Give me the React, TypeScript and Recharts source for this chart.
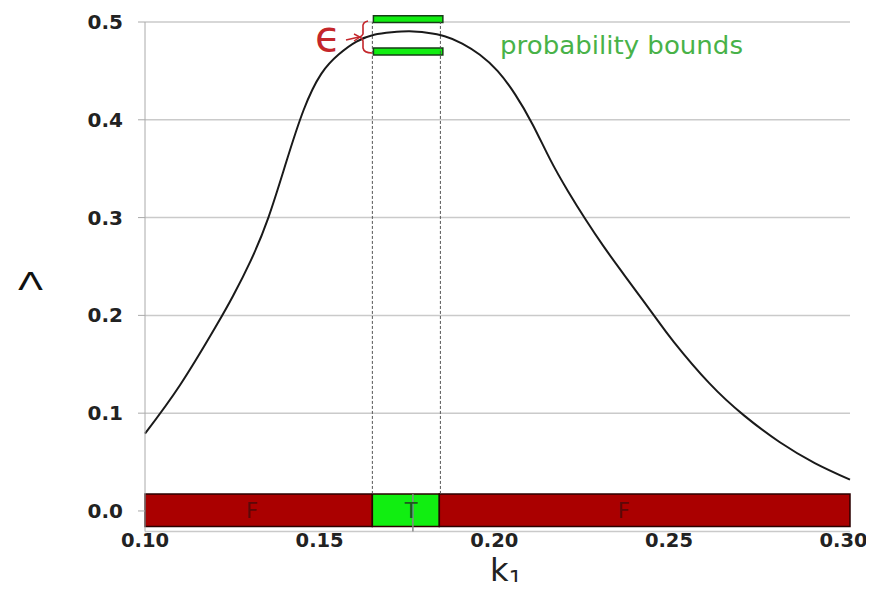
import {
  ComposedChart,
  Line,
  XAxis,
  YAxis,
  CartesianGrid,
  ReferenceArea,
  ReferenceLine,
  ReferenceDot,
} from 'recharts';

// k1 sample points and the Lambda curve
const kValues = [
  0.1, 0.11, 0.12, 0.125, 0.13, 0.135, 0.14, 0.145, 0.15, 0.155, 0.16, 0.165,
  0.17, 0.175, 0.18, 0.185, 0.19, 0.195, 0.2, 0.205, 0.21, 0.215, 0.22, 0.225,
  0.23, 0.235, 0.24, 0.245, 0.25, 0.26, 0.27, 0.28, 0.29, 0.3,
];
const lambdaValues = [
  0.079, 0.129, 0.188, 0.22, 0.256, 0.3, 0.356, 0.41, 0.447, 0.467, 0.48,
  0.487, 0.4895, 0.4905, 0.489, 0.4855, 0.478, 0.4665, 0.45, 0.426, 0.395,
  0.359, 0.327, 0.298, 0.271, 0.246, 0.2215, 0.197, 0.173, 0.131, 0.0975,
  0.0705, 0.049, 0.032,
];

const xTicks = [0.1, 0.15, 0.2, 0.25, 0.3];
const yTicks = [0, 0.1, 0.2, 0.3, 0.4, 0.5];

// truth band along the bottom: F / T / F
const bandStarts = [0.1, 0.1645, 0.1835];
const bandEnds = [0.1645, 0.1835, 0.3];
const bandLabels = ['F', 'T', 'F'];
const bandLabelK = [0.1304, 0.1755, 0.2358];
const bandHalf = [-0.016, 0.0174];

// probability bounds (upper / lower) and their k1 interval
const boundsK = [0.1648, 0.1845];
const upperBound = [0.4995, 0.5065];
const lowerBound = [0.4663, 0.4733];
const guideK = [0.1645, 0.1838];
const markerK = 0.176;

const data = kValues.map((k, i) => ({ k, v: lambdaValues[i] }));

const bandFill = (label: string) => (label === 'T' ? '#11ee11' : '#aa0000');
const bandText = (label: string) => (label === 'T' ? '#1f5a1f' : '#5c0808');

// x tick labels drift a little left in the original, last one stays inside
const XTick = (props: any) => {
  const { x, y, payload, index } = props;
  return (
    <text
      x={x - index * 1.6}
      y={y}
      dy="0.71em"
      textAnchor="middle"
      fontFamily="DejaVu Sans"
      fontWeight="bold"
      fontSize={19.5}
      fill="#222"
    >
      {Number(payload.value).toFixed(2)}
    </text>
  );
};

export default function App() {
  return (
    <div style={{ position: 'relative', width: 866, height: 574 }}>
      <ComposedChart
        width={866}
        height={574}
        data={data}
        margin={{ top: 14, right: 24, left: 0, bottom: 20.5 }}
      >
        <CartesianGrid vertical={false} stroke="#cacaca" strokeWidth={1.5} />
        <XAxis
          type="number"
          dataKey="k"
          domain={[0.1, 0.3]}
          ticks={xTicks}
          axisLine={false}
          tickLine={false}
          tickSize={0}
          tickMargin={2}
          height={30}
          tick={XTick}
        />
        <YAxis
          type="number"
          domain={[-0.021, 0.5]}
          allowDataOverflow
          ticks={yTicks}
          tickFormatter={(t: number) => t.toFixed(1)}
          width={137}
          stroke="#aaaaaa"
          tickSize={7}
          tickMargin={15}
          tick={{ fontFamily: 'DejaVu Sans', fontWeight: 'bold', fontSize: 20, fill: '#222' }}
        />
        {guideK.map((k) => (
          <ReferenceLine
            key={'g' + k}
            segment={[
              { x: k, y: bandHalf[1] },
              { x: k, y: 0.5 },
            ]}
            stroke="#555"
            strokeDasharray="3 2"
            ifOverflow="visible"
          />
        ))}
        <Line
          type="natural"
          dataKey="v"
          stroke="#1a1a1a"
          strokeWidth={2}
          dot={false}
          isAnimationActive={false}
        />
        {bandStarts.map((s, i) => (
          <ReferenceArea
            key={'b' + i}
            x1={s}
            x2={bandEnds[i]}
            y1={bandHalf[0]}
            y2={bandHalf[1]}
            fill={bandFill(bandLabels[i])}
            fillOpacity={1}
            stroke="#2a0000"
            strokeWidth={1.5}
            ifOverflow="visible"
          />
        ))}
        <ReferenceLine
          segment={[
            { x: markerK, y: bandHalf[1] },
            { x: markerK, y: -0.021 },
          ]}
          stroke="#888"
          strokeWidth={1.5}
          ifOverflow="visible"
        />
        {bandLabels.map((lab, i) => (
          <ReferenceDot
            key={'l' + i}
            x={bandLabelK[i]}
            y={0}
            r={1}
            fill="none"
            stroke="none"
            ifOverflow="visible"
            label={{
              value: lab,
              position: 'center',
              fill: bandText(lab),
              fontSize: 21,
              fontFamily: 'DejaVu Sans',
            }}
          />
        ))}
        {[upperBound, lowerBound].map((b, i) => (
          <ReferenceArea
            key={'p' + i}
            x1={boundsK[0]}
            x2={boundsK[1]}
            y1={b[0]}
            y2={b[1]}
            fill="#11ee11"
            fillOpacity={1}
            stroke="#173d17"
            strokeWidth={1.5}
            ifOverflow="visible"
          />
        ))}
      </ComposedChart>
      <svg
        width={866}
        height={582}
        style={{ position: 'absolute', left: 0, top: 0, pointerEvents: 'none' }}
      >
        <text
          x={492}
          y={46}
          fill="#48b248"
          fontFamily="DejaVu Sans"
          fontSize={24}
          textLength={243}
          lengthAdjust="spacingAndGlyphs"
        >
          probability bounds
        </text>
        <text x={307} y={43} fill="#c4262b" fontFamily="DejaVu Sans" fontSize={42}>
          ϵ
        </text>
        <path
          d="M360 13 Q354 14 355 20 L355 26 Q354 28 352 29 Q354 30 355 33 L355 40 Q356 45 364 45"
          fill="none"
          stroke="#c4262b"
          strokeWidth={1.6}
        />
        <path d="M338 32 L351 29" stroke="#c4262b" strokeWidth={1.6} fill="none" />
        <path d="M346 26 L352 29 L346 33" stroke="#c4262b" strokeWidth={1.4} fill="none" />
        <text
          x={10}
          y={282}
          fill="#111"
          fontFamily="DejaVu Sans"
          fontSize={24}
          textLength={25}
          lengthAdjust="spacingAndGlyphs"
        >
          Λ
        </text>
        <text x={482} y={573} fill="#222" fontFamily="DejaVu Sans" fontSize={32}>
          k
          <tspan fontSize={22} dy={5}>
            1
          </tspan>
        </text>
      </svg>
    </div>
  );
}
